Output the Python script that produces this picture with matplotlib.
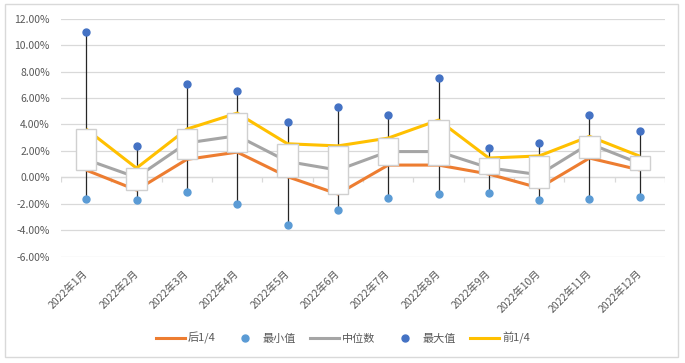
import numpy as np
import matplotlib
matplotlib.use('Agg')
import matplotlib.pyplot as plt
from matplotlib.lines import Line2D
from matplotlib.patches import Rectangle

plt.rcParams['font.family'] = ['Noto Sans CJK SC', 'DejaVu Sans']

# 数据（单位：%）
months = ['2022年%d月' % m for m in range(1, 13)]
upper_q = [3.65, 0.70, 3.65, 4.86, 2.54, 2.38, 2.97, 4.33, 1.46, 1.62, 3.10, 1.60]   # 前1/4
median = [1.35, 0.00, 2.60, 3.15, 1.20, 0.55, 1.95, 1.95, 0.72, 0.20, 2.55, 1.05]    # 中位数
lower_q = [0.55, -0.96, 1.36, 1.91, 0.05, -1.26, 0.93, 0.93, 0.25, -0.80, 1.46, 0.56]  # 后1/4
max_v = [11.00, 2.37, 7.05, 6.52, 4.18, 5.31, 4.71, 7.50, 2.22, 2.59, 4.71, 3.50]
min_v = [-1.64, -1.71, -1.11, -2.02, -3.60, -2.47, -1.56, -1.26, -1.18, -1.71, -1.64, -1.49]

c_orange = '#ED7D31'
c_gray = '#A5A5A5'
c_yellow = '#FFC000'
c_max = '#4472C4'
c_min = '#5B9BD5'
c_grid = '#D9D9D9'
c_text = '#595959'

fig = plt.figure(figsize=(6.85, 3.63), dpi=100)
ax = fig.add_axes([61 / 685, 1 - 256.7 / 363, 604 / 685, 238 / 363])

x = np.arange(len(months))
up = np.array(upper_q)
lo = np.array(lower_q)

# 须线
ax.vlines(x, min_v, max_v, color='#262626', lw=0.9, zorder=2)
# 折线
ax.plot(x, lower_q, color=c_orange, lw=2.2, zorder=3, solid_capstyle='butt')
ax.plot(x, median, color=c_gray, lw=2.2, zorder=3, solid_capstyle='butt')
ax.plot(x, upper_q, color=c_yellow, lw=2.2, zorder=3, solid_capstyle='butt')
# 箱体
ax.bar(x, up - lo, bottom=lo, width=0.4, color='white', edgecolor='#D0D0D0', lw=1.0, zorder=4)
# 最大/最小值
ax.plot(x, max_v, 'o', color=c_max, ms=5, zorder=5)
ax.plot(x, min_v, 'o', color=c_min, ms=5, zorder=5)

ax.set_xlim(-0.5, len(months) - 0.5)
ax.set_ylim(-6, 12)
ax.set_yticks(np.arange(-6, 12.1, 2))
ax.set_yticklabels(['%.2f%%' % v for v in np.arange(-6, 12.1, 2)])
ax.grid(axis='y', color=c_grid, lw=0.9, zorder=0)
ax.set_axisbelow(True)
for s in ax.spines.values():
    s.set_visible(False)

# 0 轴线及分类刻度
ax.axhline(0, color=c_grid, lw=0.9, zorder=1)
ax.vlines(np.arange(len(months) + 1) - 0.5, -0.38, 0, color=c_grid, lw=0.9, zorder=1)

ax.set_xticks(x)
ax.set_xticklabels(months, rotation=45, ha='right', va='center', rotation_mode='anchor')
ax.tick_params(axis='x', length=0, pad=11, labelsize=7.5, labelcolor=c_text)
ax.tick_params(axis='y', length=0, pad=8, labelsize=7.5, labelcolor=c_text)

handles = [
    Line2D([], [], color=c_orange, lw=2.2),
    Line2D([], [], color=c_min, marker='o', ls='none', ms=5),
    Line2D([], [], color=c_gray, lw=2.2),
    Line2D([], [], color=c_max, marker='o', ls='none', ms=5),
    Line2D([], [], color=c_yellow, lw=2.2),
]
labels = ['后1/4', '最小值', '中位数', '最大值', '前1/4']
leg = fig.legend(handles, labels, loc='center', bbox_to_anchor=(343 / 685, 1 - 338 / 363),
                 ncol=5, frameon=False, fontsize=8, handlelength=2.6,
                 handletextpad=0.3, columnspacing=1.3)
for t in leg.get_texts():
    t.set_color(c_text)

# 图表外框
fig.patches.append(Rectangle((5 / 685, 1 - 357 / 363), 673 / 685, 353 / 363,
                             transform=fig.transFigure, fill=False,
                             edgecolor=c_grid, lw=1.0))

fig.savefig('out.png', dpi=100)
